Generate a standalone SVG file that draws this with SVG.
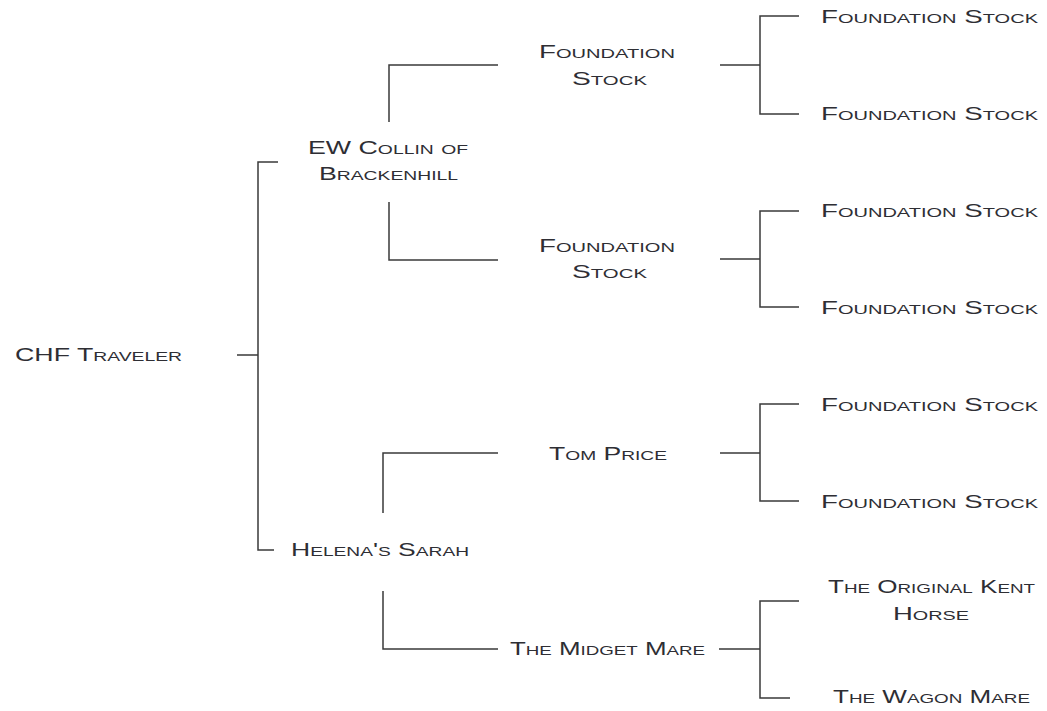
<svg xmlns="http://www.w3.org/2000/svg" width="1047" height="711" viewBox="0 0 1047 711">
<style>
.t{font-family:"Liberation Sans",Arial,sans-serif;font-size:18px;font-variant:small-caps;fill:#2e2e34;}
.c{fill:none;stroke:#3a3a3a;stroke-width:1.5;}
</style>
<rect width="1047" height="711" fill="#ffffff"/>
<g id="connectors" class="c">
<path d="M237,355 H258 M278,162 H258 V550 H274"/>
<path d="M498,65 H389 V122 M389,202 V260 H498"/>
<path d="M720,65 H760 M799,16 H760 V114 H799"/>
<path d="M720,259 H760 M799,211 H760 V307 H799"/>
<path d="M498,453 H383 V513 M383,591 V649 H498"/>
<path d="M720,453 H760 M799,404 H760 V501 H799"/>
<path d="M719,649 H760 M799,601 H760 V698 H790"/>
</g>
<g id="n-chf"><text class="t" x="15" y="361" textLength="167" lengthAdjust="spacingAndGlyphs">CHF Traveler</text></g>
<g id="n-ew"><text class="t" x="308" y="154" textLength="160" lengthAdjust="spacingAndGlyphs">EW Collin of</text><text class="t" x="319" y="180" textLength="139" lengthAdjust="spacingAndGlyphs">Brackenhill</text></g>
<g id="n-helena"><text class="t" x="291" y="556" textLength="178" lengthAdjust="spacingAndGlyphs">Helena's Sarah</text></g>
<g id="n-fs-a"><text class="t" x="539" y="58" textLength="136" lengthAdjust="spacingAndGlyphs">Foundation</text><text class="t" x="572" y="85" textLength="75" lengthAdjust="spacingAndGlyphs">Stock</text></g>
<g id="n-fs-b"><text class="t" x="539" y="252" textLength="136" lengthAdjust="spacingAndGlyphs">Foundation</text><text class="t" x="572" y="278" textLength="75" lengthAdjust="spacingAndGlyphs">Stock</text></g>
<g id="n-tom"><text class="t" x="549" y="460" textLength="118" lengthAdjust="spacingAndGlyphs">Tom Price</text></g>
<g id="n-midget"><text class="t" x="510" y="655" textLength="195" lengthAdjust="spacingAndGlyphs">The Midget Mare</text></g>
<g id="n-fs1"><text class="t" x="821" y="23" textLength="217" lengthAdjust="spacingAndGlyphs">Foundation Stock</text></g>
<g id="n-fs2"><text class="t" x="821" y="120" textLength="217" lengthAdjust="spacingAndGlyphs">Foundation Stock</text></g>
<g id="n-fs3"><text class="t" x="821" y="217" textLength="217" lengthAdjust="spacingAndGlyphs">Foundation Stock</text></g>
<g id="n-fs4"><text class="t" x="821" y="314" textLength="217" lengthAdjust="spacingAndGlyphs">Foundation Stock</text></g>
<g id="n-fs5"><text class="t" x="821" y="411" textLength="217" lengthAdjust="spacingAndGlyphs">Foundation Stock</text></g>
<g id="n-fs6"><text class="t" x="821" y="508" textLength="217" lengthAdjust="spacingAndGlyphs">Foundation Stock</text></g>
<g id="n-kent"><text class="t" x="828" y="593" textLength="207" lengthAdjust="spacingAndGlyphs">The Original Kent</text><text class="t" x="893" y="620" textLength="76" lengthAdjust="spacingAndGlyphs">Horse</text></g>
<g id="n-wagon"><text class="t" x="833" y="703" textLength="197" lengthAdjust="spacingAndGlyphs">The Wagon Mare</text></g>
</svg>
